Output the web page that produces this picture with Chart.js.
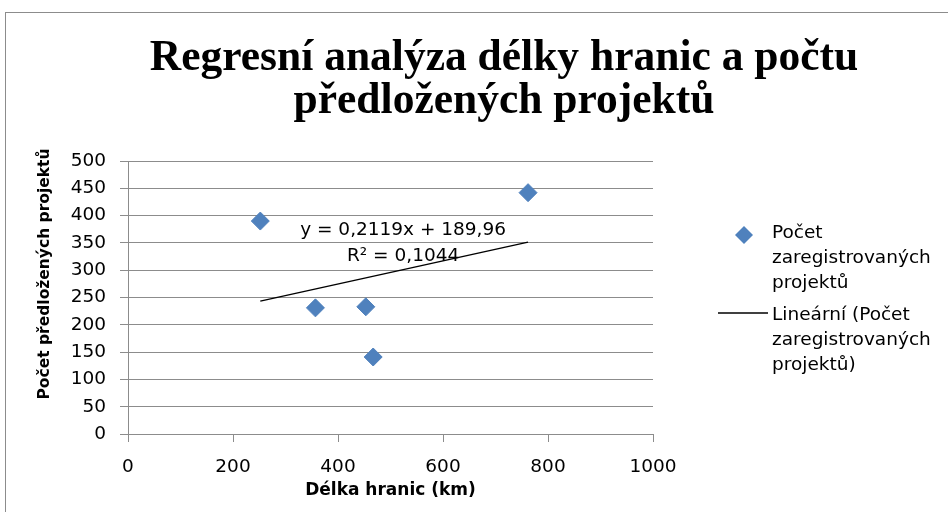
<!DOCTYPE html>
<html>
<head>
<meta charset="utf-8">
<script src="https://cdn.jsdelivr.net/npm/chart.js@4.4.1/dist/chart.umd.min.js"></script>
<style>
  html, body { margin: 0; padding: 0; background: #fff; overflow: hidden; }
  #frame { position: absolute; left: 5px; top: 12px; width: 1000px; height: 600px; border: 1px solid #8c8c8c; }
  #chart { position: absolute; left: 0; top: 0; }
</style>
</head>
<body>
<div id="frame"></div>
<canvas id="chart" width="948" height="512"></canvas>
<script>
const TITLE_LINES = ["Regresní analýza délky hranic a počtu", "předložených projektů"];
const X_TITLE = "Délka hranic (km)";
const Y_TITLE = "Počet předložených projektů";
const SERIES_NAME = ["Počet", "zaregistrovaných", "projektů"];
const TREND_NAME = ["Lineární (Počet", "zaregistrovaných", "projektů)"];

// délka hranic (km) vs. počet projektů
const borderKm = [252, 357, 453, 467, 762];
const projects = [390, 231, 233, 141, 442];

const xTicks = [0, 200, 400, 600, 800, 1000];
const yTicks = [0, 50, 100, 150, 200, 250, 300, 350, 400, 450, 500];

// lineární trend z Excelu
const slope = 0.2119;
const intercept = 189.96;
const EQUATION = ["y = 0,2119x + 189,96", "R² = 0,1044"];
const EQ_AT = { x: 524, y: 373 };

const BLUE = "#4F81BD";
const GRID = "#8c8c8c";
const SANS = "'DejaVu Sans', sans-serif";

const trendX = [Math.min(...borderKm), Math.max(...borderKm)];

/* ---------- texty, legenda, rovnice ---------- */
const decor = {
  id: "decor",
  afterDraw(chart) {
    const ctx = chart.ctx;
    const area = chart.chartArea;
    const xs = chart.scales.x, ys = chart.scales.y;
    ctx.save();
    ctx.fillStyle = "#000";

    // nadpis
    ctx.font = "bold 43.5px 'Liberation Serif', serif";
    ctx.textAlign = "center";
    ctx.textBaseline = "alphabetic";
    ctx.fillText(TITLE_LINES[0], 504, 70);
    ctx.fillText(TITLE_LINES[1], 504, 113);

    // popisky os
    ctx.font = "bold 17px " + SANS;
    ctx.textBaseline = "middle";
    ctx.fillText(X_TITLE, (area.left + area.right) / 2, 491);

    ctx.save();
    ctx.translate(45, 274);
    ctx.rotate(-Math.PI / 2);
    ctx.font = "bold 15.5px " + SANS;
    ctx.fillText(Y_TITLE, 0, 0);
    ctx.restore();

    // rovnice trendu
    ctx.font = "18.5px " + SANS;
    const ex = xs.getPixelForValue(EQ_AT.x);
    const ey = ys.getPixelForValue(EQ_AT.y);
    ctx.fillText(EQUATION[0], ex, ey);
    ctx.fillText(EQUATION[1], ex, ey + 26);

    // legenda
    const lx = area.right + 119;
    ctx.textAlign = "left";
    ctx.textBaseline = "alphabetic";
    ctx.fillStyle = BLUE;
    ctx.beginPath();
    ctx.moveTo(lx - 28, 226);
    ctx.lineTo(lx - 19, 235);
    ctx.lineTo(lx - 28, 244);
    ctx.lineTo(lx - 37, 235);
    ctx.closePath();
    ctx.fill();
    ctx.fillStyle = "#000";
    SERIES_NAME.forEach((t, i) => ctx.fillText(t, lx, 238 + i * 25));

    ctx.strokeStyle = "#000";
    ctx.lineWidth = 1.5;
    ctx.beginPath();
    ctx.moveTo(lx - 54, 313);
    ctx.lineTo(lx - 4, 313);
    ctx.stroke();
    TREND_NAME.forEach((t, i) => ctx.fillText(t, lx, 320 + i * 25));

    ctx.restore();
  }
};

new Chart(document.getElementById("chart"), {
  type: "scatter",
  data: {
    datasets: [
      {
        label: SERIES_NAME.join(" "),
        data: borderKm.map((x, i) => ({ x: x, y: projects[i] })),
        backgroundColor: BLUE,
        borderColor: BLUE,
        pointStyle: "rectRot",
        pointRadius: 9,
        pointHoverRadius: 9
      },
      {
        type: "line",
        label: TREND_NAME.join(" "),
        data: trendX.map(x => ({ x: x, y: slope * x + intercept })),
        borderColor: "#000",
        borderWidth: 1.5,
        pointRadius: 0,
        fill: false
      }
    ]
  },
  options: {
    responsive: false,
    animation: false,
    events: [],
    layout: { padding: { top: 161, right: 295, bottom: 0, left: 0 } },
    plugins: {
      legend: { display: false },
      title: { display: false },
      tooltip: { enabled: false }
    },
    scales: {
      x: {
        type: "linear",
        min: 0,
        max: 1000,
        afterBuildTicks: s => { s.ticks = xTicks.map(v => ({ value: v })); },
        afterFit: s => { s.height = 78; },
        ticks: {
          callback: v => String(v),
          color: "#000",
          font: { family: SANS, size: 18.5 },
          padding: 14,
          maxRotation: 0
        },
        grid: { drawOnChartArea: false, drawTicks: true, tickLength: 8, color: GRID },
        border: { display: true, color: GRID }
      },
      y: {
        type: "linear",
        min: 0,
        max: 500,
        afterBuildTicks: s => { s.ticks = yTicks.map(v => ({ value: v })); },
        afterFit: s => { s.width = 128; },
        ticks: {
          callback: v => String(v),
          color: "#000",
          font: { family: SANS, size: 18.5 },
          padding: 14
        },
        grid: { drawOnChartArea: true, drawTicks: true, tickLength: 8, color: GRID },
        border: { display: true, color: GRID }
      }
    }
  },
  plugins: [decor]
});
</script>
</body>
</html>
